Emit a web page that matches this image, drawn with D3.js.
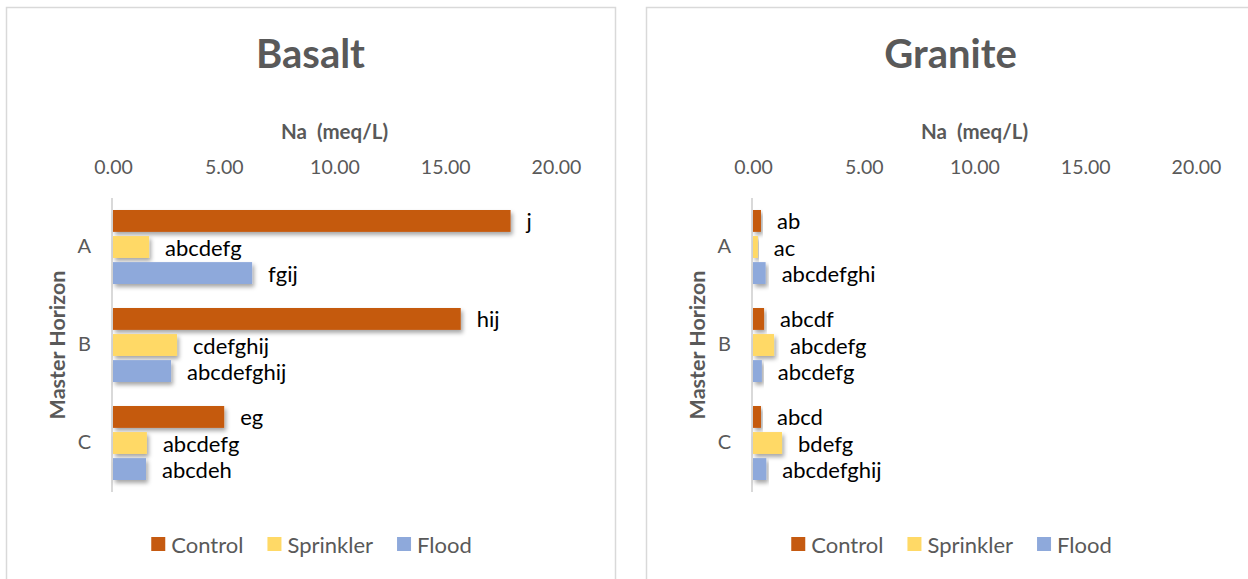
<!DOCTYPE html>
<html>
<head>
<meta charset="utf-8">
<script src="https://cdn.jsdelivr.net/npm/d3@7"></script>
<style>
  html, body { margin: 0; padding: 0; background: #ffffff; }
  svg { display: block; }
  text { font-family: Lato, "Open Sans", sans-serif; }
</style>
</head>
<body>
<svg id="chart" width="1248" height="579"></svg>
<script>
// Horizons and treatments
const categories = ["A", "B", "C"];
const series = ["Control", "Sprinkler", "Flood"];
const seriesColors = ["#C55A11", "#FFD966", "#8EA9DB"];
const tickValues = [0, 5, 10, 15, 20];

// Na (meq/L) – basalt parent material
const basaltControl   = [17.95, 15.70, 5.02];
const basaltSprinkler = [1.63, 2.89, 1.53];
const basaltFlood     = [6.28, 2.62, 1.49];
const basaltControlLetters   = ["j", "hij", "eg"];
const basaltSprinklerLetters = ["abcdefg", "cdefghij", "abcdefg"];
const basaltFloodLetters     = ["fgij", "abcdefghij", "abcdeh"];

// Na (meq/L) – granite parent material
const graniteControl   = [0.36, 0.50, 0.36];
const graniteSprinkler = [0.22, 0.95, 1.31];
const graniteFlood     = [0.57, 0.40, 0.60];
const graniteControlLetters   = ["ab", "abcdf", "abcd"];
const graniteSprinklerLetters = ["ac", "abcdefg", "bdefg"];
const graniteFloodLetters     = ["abcdefghi", "abcdefg", "abcdefghij"];

const svg = d3.select("#chart");

// soft shadow under the bars
const defs = svg.append("defs");
const f = defs.append("filter").attr("id", "barShadow")
  .attr("x", "-10%").attr("y", "-30%").attr("width", "130%").attr("height", "190%");
f.append("feDropShadow").attr("dx", 2).attr("dy", 3).attr("stdDeviation", 2)
  .attr("flood-color", "#000").attr("flood-opacity", 0.35);

function drawPanel(opts) {
  const { left, title, values, letters } = opts;
  const panelW = 609;
  const g = svg.append("g").attr("transform", `translate(${left},0)`);

  // panel frame (bottom edge runs past the visible area)
  g.append("rect")
    .attr("x", 0.5).attr("y", 7.5)
    .attr("width", panelW).attr("height", 600)
    .attr("fill", "#fff").attr("stroke", "#d9d9d9").attr("stroke-width", 1.5);

  const plotL = 107, plotR = 550, plotT = 198, plotB = 492;

  const x = d3.scaleLinear().domain([0, 20]).range([plotL, plotR]);
  const y = d3.scaleBand().domain(categories).range([plotT, plotB]);
  const ySeries = d3.scaleBand().domain(series)
    .range([12, 86]).paddingInner(0.16).paddingOuter(0);

  // chart title
  g.append("text")
    .attr("x", panelW / 2).attr("y", 68)
    .attr("text-anchor", "middle")
    .attr("font-size", 40).attr("font-weight", 700).attr("fill", "#595959")
    .text(title);

  // axis title
  g.append("text")
    .attr("x", (plotL + plotR) / 2).attr("y", 139)
    .attr("text-anchor", "middle")
    .attr("font-size", 20.5).attr("font-weight", 700).attr("fill", "#595959")
    .attr("xml:space", "preserve")
    .text("Na  (meq/L)");

  // value axis along the top, labels only
  const xAxis = d3.axisTop(x).tickValues(tickValues)
    .tickFormat(d3.format(".2f")).tickSize(0).tickPadding(0);
  const ax = g.append("g").attr("transform", `translate(0,174)`).call(xAxis);
  ax.select(".domain").remove();
  ax.selectAll("text")
    .attr("font-family", "Lato, sans-serif")
    .attr("font-size", 19.5).attr("fill", "#595959");

  // category axis
  const yAxis = d3.axisLeft(y).tickSize(0).tickPadding(22);
  const ay = g.append("g").attr("transform", `translate(${plotL},0)`).call(yAxis);
  ay.select(".domain").remove();
  ay.selectAll("text")
    .attr("font-family", "Lato, sans-serif")
    .attr("font-size", 20).attr("fill", "#595959");
  g.append("line")
    .attr("x1", x(0) - 1).attr("x2", x(0) - 1)
    .attr("y1", plotT).attr("y2", plotB)
    .attr("stroke", "#d9d9d9").attr("stroke-width", 2);

  // vertical axis title
  g.append("text")
    .attr("transform", `translate(51,${(plotT + plotB) / 2}) rotate(-90)`)
    .attr("text-anchor", "middle").attr("dominant-baseline", "central")
    .attr("font-size", 21.5).attr("font-weight", 700).attr("fill", "#595959")
    .text("Master Horizon");

  // bars and their letter groups
  series.forEach((s, si) => {
    const grp = g.append("g");
    grp.selectAll("rect")
      .data(categories)
      .join("rect")
      .attr("x", x(0))
      .attr("y", c => y(c) + ySeries(s))
      .attr("width", (c, i) => x(values[si][i]) - x(0))
      .attr("height", ySeries.bandwidth())
      .attr("fill", seriesColors[si])
      .attr("filter", "url(#barShadow)");
    grp.selectAll("text")
      .data(categories)
      .join("text")
      .attr("x", (c, i) => x(values[si][i]) + 16)
      .attr("y", c => y(c) + ySeries(s) + ySeries.bandwidth() / 2)
      .attr("dominant-baseline", "central")
      .attr("font-size", 22).attr("fill", "#000")
      .text((c, i) => letters[si][i]);
  });

  // legend
  const leg = g.append("g");
  const items = leg.selectAll("g").data(series).join("g");
  items.append("rect").attr("width", 14).attr("height", 14)
    .attr("y", -7)
    .attr("fill", (d, i) => seriesColors[i]);
  items.append("text")
    .attr("x", 20).attr("dominant-baseline", "central")
    .attr("font-size", 22).attr("fill", "#595959")
    .text(d => d);
  let cx = 0;
  items.each(function () {
    const w = this.getBBox().width;
    d3.select(this).attr("transform", `translate(${cx},0)`);
    cx += w + 24;
  });
  const total = cx - 24;
  leg.attr("transform", `translate(${panelW / 2 + 1 - total / 2},544)`);
}

drawPanel({
  left: 6,
  title: "Basalt",
  values: [basaltControl, basaltSprinkler, basaltFlood],
  letters: [basaltControlLetters, basaltSprinklerLetters, basaltFloodLetters]
});

drawPanel({
  left: 646,
  title: "Granite",
  values: [graniteControl, graniteSprinkler, graniteFlood],
  letters: [graniteControlLetters, graniteSprinklerLetters, graniteFloodLetters]
});
</script>
</body>
</html>
